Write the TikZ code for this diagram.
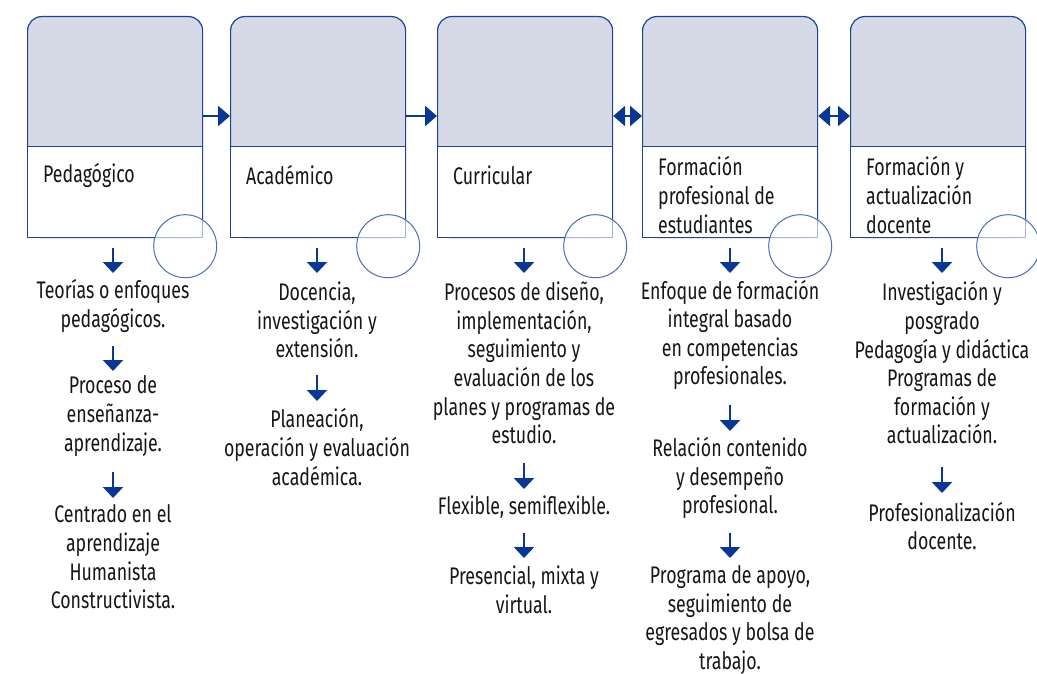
\documentclass[tikz,border=0pt]{standalone}
\usepackage{fontspec}
\setmainfont{Fira Sans}[FakeStretch=0.74]
\usetikzlibrary{arrows.meta}
\definecolor{topfill}{RGB}{213,218,230}
\definecolor{boxline}{RGB}{30,65,155}
\definecolor{circline}{RGB}{72,110,190}
\definecolor{arrblue}{RGB}{10,55,150}
\definecolor{txt}{RGB}{22,22,22}
\tikzset{
  bigbox/.style={draw=boxline, fill=topfill, line width=1.2pt, rounded corners=14pt,
    minimum width=175pt, minimum height=221pt, inner sep=0pt},
  lowbox/.style={draw=boxline, fill=white, line width=1.2pt,
    minimum width=175pt, minimum height=91pt, inner sep=0pt},
  deco/.style={draw=circline, line width=1pt, fill=white, fill opacity=0.6, circle,
    minimum size=63pt, inner sep=0pt},
  boxlabel/.style={anchor=west, align=left, text=txt, inner sep=0pt,
    font=\fontsize{24}{29}\selectfont},
  info/.style={align=center, text=txt, inner sep=0pt,
    font=\fontsize{24}{28.6}\selectfont},
  harrow/.style={draw=arrblue, line width=2.6pt, -{Triangle[length=12pt,width=20pt]}},
  darrow/.style={draw=arrblue, line width=2.6pt,
    {Triangle[length=12pt,width=20pt]}-{Triangle[length=12pt,width=20pt]}},
  varrow/.style={draw=arrblue, line width=2.6pt, -{Triangle[length=11pt,width=20pt]}},
}
\begin{document}
\begin{tikzpicture}[x=1pt,y=-1pt]
\useasboundingbox (0,0) rectangle (1037,674);
% boxes
\foreach \i/\l in {1/27,2/230,3/437,4/642,5/850}{
  \node[bigbox, anchor=north west] (b\i) at (\l,16) {};
  \node[lowbox, anchor=south west] (l\i) at (b\i.south west) {};
  \node[deco] (c\i) at ([xshift=-18pt,yshift=-8pt]b\i.south east) {};
}
% box labels
\node[boxlabel] (t1) at (43,175) {Pedagógico};
\node[boxlabel] (t2) at (246,175) {Académico};
\node[boxlabel] (t3) at (453,175) {Curricular};
\node[boxlabel] (t4) at (658,195) {Formación\\profesional de\\estudiantes};
\node[boxlabel] (t5) at (866,195) {Formación y\\actualización\\docente};
% horizontal connectors
\draw[harrow] (b1.east |- 0,116) -- (b2.west |- 0,116);
\draw[harrow] (b2.east |- 0,116) -- (b3.west |- 0,116);
\draw[darrow] (b3.east |- 0,116) -- (b4.west |- 0,116);
\draw[darrow] (b4.east |- 0,116) -- (b5.west |- 0,116);
% column 1
\node[info] (p1a) at (113,306) {Teorías o enfoques\\pedagógicos.};
\node[info] (p1b) at (113,416) {Proceso de\\enseñanza-\\aprendizaje.};
\node[info] (p1c) at (113,557) {Centrado en el\\aprendizaje\\Humanista\\Constructivista.};
% column 2
\node[info] (p2a) at (317,320) {Docencia,\\investigación y\\extensión.};
\node[info] (p2b) at (317,447) {Planeación,\\operación y evaluación\\académica.};
% column 3
\node[info] (p3a) at (524,363) {Procesos de diseño,\\implementación,\\seguimiento y\\evaluación de los\\planes y programas de\\estudio.};
\node[info] (p3b) at (524,507) {Flexible, semiflexible.};
\node[info] (p3c) at (524,590) {Presencial, mixta y\\virtual.};
% column 4
\node[info] (p4a) at (730,335) {Enfoque de formación\\integral basado\\en competencias\\profesionales.};
\node[info] (p4b) at (730,478) {Relación contenido\\y desempeño\\profesional.};
\node[info] (p4c) at (730,620) {Programa de apoyo,\\seguimiento de\\egresados y bolsa de\\trabajo.};
% column 5
\node[info] (p5a) at (942,363) {Investigación y\\posgrado\\Pedagogía y didáctica\\Programas de\\formación y\\actualización.};
\node[info] (p5b) at (942,526) {Profesionalización\\docente.};
% vertical arrow coordinates
\foreach \n/\x/\a/\b in {v11/113/248/273, v12/113/346/371, v13/113/472/498,
  v21/317/248/273, v22/317/375/401,
  v31/524/248/273, v32/524/463/489, v33/524/533/558,
  v41/730/248/273, v42/730/405/431, v43/730/533/558,
  v51/942/248/273, v52/942/467/493}{
  \coordinate (\n s) at (\x,\a);
  \coordinate (\n e) at (\x,\b);
  \draw[varrow] (\n s) -- (\n e);
}
\end{tikzpicture}
\end{document}
